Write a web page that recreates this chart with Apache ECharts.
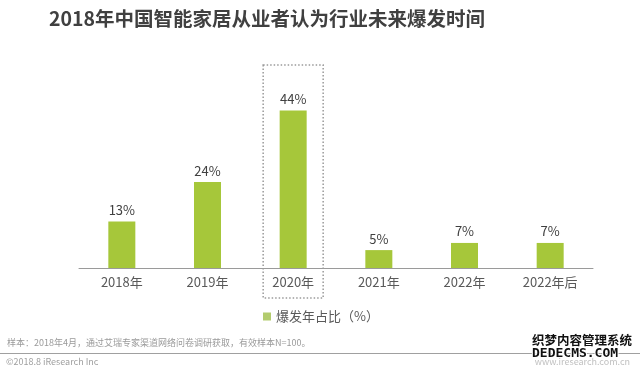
<!DOCTYPE html>
<html>
<head>
<meta charset="utf-8">
<script src="https://cdn.jsdelivr.net/npm/echarts@6/dist/echarts.min.js"></script>
<style>
html,body{margin:0;padding:0;background:#fff;}
#c{width:640px;height:371px;}
</style>
</head>
<body>
<div id="c"></div>
<script>
const titleText = '2018年中国智能家居从业者认为行业未来爆发时间';
const categories = ['2018年', '2019年', '2020年', '2021年', '2022年', '2022年后'];
const seriesName = '爆发年占比（%）';
const values = [13, 24, 44, 5, 7, 7];
const highlightCategory = '2020年';
const noteText = '样本：2018年4月，通过艾瑞专家渠道网络问卷调研获取，有效样本N=100。';
const copyrightText = '©2018.8 iResearch Inc';
const siteText = 'www.iresearch.com.cn';
const watermark1 = '织梦内容管理系统';
const watermark2 = 'DEDECMS.COM';

const FONT = '"Noto Sans CJK SC", "Noto Sans", sans-serif';
const chart = echarts.init(document.getElementById('c'), null, {renderer: 'canvas'});

chart.setOption({
  backgroundColor: '#fff',
  animation: false,
  textStyle: {fontFamily: FONT},
  title: {
    text: titleText,
    left: 44, top: 4,
    textStyle: {fontSize: 19.5, fontWeight: 'bold', color: '#404040', fontFamily: FONT}
  },
  grid: {left: 79, right: 47, top: 89, bottom: 103, containLabel: false},
  xAxis: {
    type: 'category',
    data: categories,
    axisLine: {lineStyle: {color: '#9a9a9a', width: 1}},
    axisTick: {show: false},
    axisLabel: {color: '#595959', fontSize: 13, margin: 8, fontFamily: FONT}
  },
  yAxis: {
    type: 'value', min: 0, max: 50,
    show: false,
    splitLine: {show: false}
  },
  legend: {
    data: [{name: seriesName, itemStyle: {color: '#b3cc6e'}}],
    left: 258, top: 305,
    icon: 'rect', itemWidth: 8, itemHeight: 8, itemGap: 5,
    textStyle: {color: '#595959', fontSize: 13, fontFamily: FONT}
  },
  series: [{
    name: seriesName,
    type: 'bar',
    data: values,
    barWidth: 27,
    itemStyle: {color: '#a6c73a'},
    label: {
      show: true, position: 'top', distance: 5,
      formatter: '{c}%', color: '#404040', fontSize: 13, fontFamily: FONT
    }
  }]
});

const cx = chart.convertToPixel({xAxisIndex: 0}, highlightCategory);
chart.setOption({
  graphic: [
    {
      type: 'rect',
      shape: {x: cx - 30, y: 65, width: 60, height: 233},
      style: {fill: 'none', stroke: '#9a9a9a', lineWidth: 1.5, lineDash: [1.5, 2]}
    },
    {
      type: 'text', left: 7, top: 338,
      style: {text: noteText, fill: '#9a9a9a', fontSize: 9, fontFamily: FONT}
    },
    {
      type: 'line',
      shape: {x1: 0, y1: 353.5, x2: 640, y2: 353.5},
      style: {stroke: '#a0a0a0', lineWidth: 1}
    },
    {
      type: 'text', left: 6, top: 357,
      style: {text: copyrightText, fill: '#a0a0a0', fontSize: 9, fontFamily: FONT}
    },
    {
      type: 'text', right: 10, top: 357,
      style: {text: siteText, fill: '#c0c0c0', fontSize: 9, fontFamily: FONT}
    },
    {
      type: 'text', left: 531, top: 333,
      style: {text: watermark1, fill: '#111', stroke: '#fff', lineWidth: 2, fontSize: 12.5, fontWeight: 'bold', fontFamily: FONT}
    },
    {
      type: 'text', left: 531, top: 346,
      style: {text: watermark2, fill: '#111', stroke: '#fff', lineWidth: 2, fontSize: 13, fontWeight: 'bold', fontFamily: '"DejaVu Sans Mono", monospace'}
    }
  ]
});
</script>
</body>
</html>
